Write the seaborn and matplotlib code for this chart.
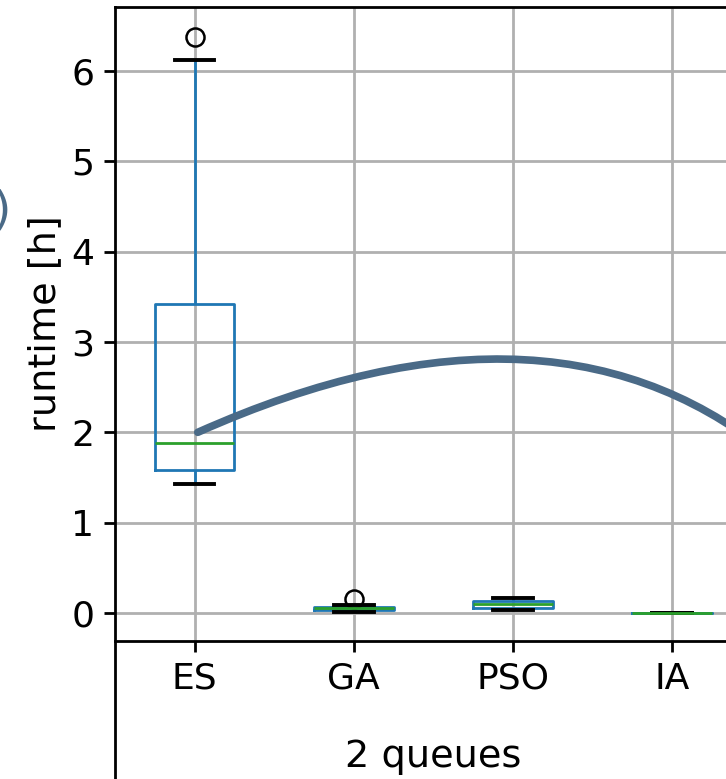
import pandas as pd
import seaborn as sns
import matplotlib.pyplot as plt

# runtimes per algorithm (hours), 2 queues
algorithms = ["ES", "GA", "PSO", "IA"]
es_runtime = [1.43, 1.50, 1.58, 1.70, 1.88, 2.60, 3.42, 6.12, 6.38]
ga_runtime = [0.01, 0.02, 0.03, 0.04, 0.05, 0.06, 0.07, 0.09, 0.15]
pso_runtime = [0.03, 0.05, 0.06, 0.08, 0.10, 0.11, 0.13, 0.15, 0.17]
ia_runtime = [0.0, 0.0, 0.0, 0.0, 0.0]

# arrow leaving the ES median towards the next panel
arrow_start = (0.02, 2.0)
arrow_end = (3.73, 1.58)

df = pd.DataFrame({
    "algorithm": (["ES"] * len(es_runtime) + ["GA"] * len(ga_runtime)
                  + ["PSO"] * len(pso_runtime) + ["IA"] * len(ia_runtime)),
    "runtime": es_runtime + ga_runtime + pso_runtime + ia_runtime,
})

plt.rcParams["font.family"] = ["DejaVu Sans"]
plt.rcParams["font.size"] = 26

fig = plt.figure(figsize=(7.26, 7.79), dpi=100)
ax = fig.add_axes([0.1584, 0.1772, 0.877, 0.8139])

sns.boxplot(data=df, x="algorithm", y="runtime", order=algorithms, width=0.5,
            fill=False, color="#1f77b4", linewidth=2, whis=1.5,
            medianprops=dict(color="#2ca02c", linewidth=2),
            capprops=dict(color="black", linewidth=2.8),
            whiskerprops=dict(color="#1f77b4", linewidth=2),
            flierprops=dict(marker="o", markerfacecolor="none", markeredgecolor="black",
                            markersize=13, markeredgewidth=1.8),
            capwidths=0.25, ax=ax)

ax.set_xlim(-0.5, 3.5)
ax.set_ylim(-0.31, 6.71)
ax.set_yticks(range(7))
ax.set_axisbelow(True)
ax.grid(True, color="#b0b0b0", linewidth=2)

for side in ["left", "bottom", "top", "right"]:
    ax.spines[side].set_linewidth(2)
# left border runs on below the axis (group separator)
ax.spines["left"].set_bounds(-2.0, 6.71)

ax.tick_params(axis="both", length=8, width=2, pad=7, labelsize=26)
ax.set_ylabel("runtime [h]", fontsize=27.5, labelpad=6)
ax.set_xlabel("2 queues", fontsize=27.5, labelpad=31)

ax.annotate("", xy=arrow_end, xytext=arrow_start, xycoords="data", textcoords="data",
            annotation_clip=False,
            arrowprops=dict(arrowstyle="-|>,head_length=0.8,head_width=0.35",
                            connectionstyle="angle3,angleA=24,angleB=-41",
                            color="#4a6a87", linewidth=5.5, mutation_scale=30,
                            shrinkA=0, shrinkB=0))

fig.text(11 / 726, 1 - 211 / 779, ")", ha="right", va="center", fontsize=34,
         color="#4a6a87")

fig.savefig("out.png", dpi=100)
